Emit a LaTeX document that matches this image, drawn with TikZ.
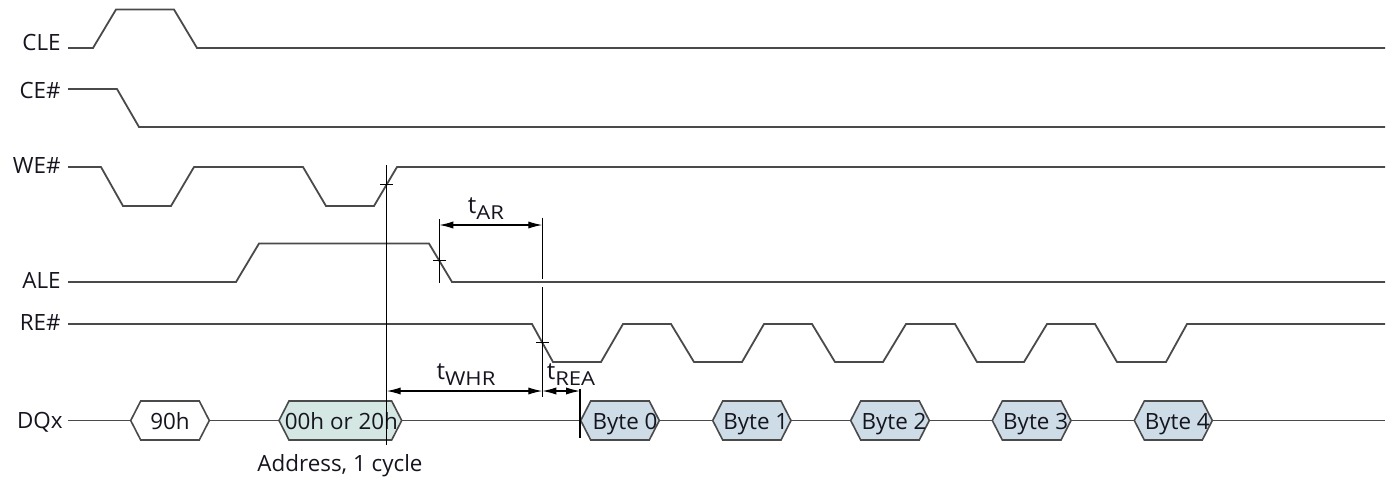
\documentclass[tikz,border=0pt]{standalone}
\usepackage{fontspec}
\setmainfont{Open Sans}
\usetikzlibrary{arrows.meta}
\definecolor{wavegray}{HTML}{4A4A4A}
\definecolor{txt}{HTML}{15151F}
\definecolor{addrfill}{HTML}{D5E7E3}
\definecolor{bytefill}{HTML}{CDDCE6}
\newcommand\bushex[6]{%
  \path[hexb, fill=#4] (#2,420.5) -- (#2+10,401) -- (#3-10,401) -- (#3,420.5) -- (#3-10,440) -- (#2+10,440) -- cycle;
  \coordinate (#1L) at (#2,420.5);
  \coordinate (#1R) at (#3,420.5);
  \node[hext] (#1) at ({(#2+#3)/2+#6},429) {#5};
}
\newcommand\tsub[1]{t\raisebox{-3.4pt}{\scalebox{1.15}[1]{\fontsize{9.6}{11}\selectfont #1}}}
\begin{document}
\begin{tikzpicture}[x=0.5pt,y=-0.5pt,
  wave/.style={draw=wavegray, line width=0.9pt, line join=miter},
  hexb/.style={draw=wavegray, line width=0.8pt, line join=miter},
  tline/.style={draw=black, line width=0.6pt},
  dimarrow/.style={tline, {Latex[length=7pt,width=3.6pt]}-{Latex[length=7pt,width=3.6pt]}},
  sig/.style={anchor=base east, font=\fontsize{11.2}{13}\selectfont, text=txt, inner sep=0pt},
  hext/.style={anchor=base, font=\fontsize{11.2}{13}\selectfont, text=txt, inner sep=0pt},
  tlab/.style={anchor=base, font=\fontsize{11.2}{13}\selectfont, text=txt, inner sep=0pt},
  tdim/.style={anchor=base, font=\fontsize{12}{14}\selectfont, text=txt, inner sep=0pt},
]
\useasboundingbox (0,0) rectangle (1393,478);

% signal names
\node[sig] (cle) at (61,50) {CLE};
\node[sig] (ce) at (61,98) {CE\#};
\node[sig] (we) at (61,173) {WE\#};
\node[sig] (ale) at (61,288) {ALE};
\node[sig] (re) at (61,330) {RE\#};
\node[sig] (dq) at (63,428) {DQx};

% waveforms
\draw[wave] (68,48)--(93,48)--(116,9.5)--(174,9.5)--(197,48)--(1385,48);
\draw[wave] (68,89)--(117,89)--(139,127)--(1385,127);
\draw[wave] (68,167)--(101,167)--(123,206)--(171,206)--(194,167)--(303,167)--(326,206)--(374,206)--(397,167)--(1385,167);
\draw[wave] (68,282)--(236,282)--(259,243.5)--(429,243.5)--(452,282)--(1385,282);
\draw[wave] (68,324)--(532,324)--(553,362)--(601,362)--(623,324)--(671,324)--(694,362)--(742,362)--(764,324)--(812,324)--(835,362)--(883,362)--(906,324)--(955,324)--(977,362)--(1024,362)--(1047,324)--(1095,324)--(1117,362)--(1166,362)--(1187,324)--(1385,324);

% DQx bus
\bushex{h90}{130.7}{209.3}{white}{90h}{0}
\bushex{haddr}{279}{401.7}{addrfill}{00h or 20h}{1}
\bushex{b0}{580.7}{659.3}{bytefill}{Byte 0}{5}
\bushex{b1}{712.7}{791}{bytefill}{Byte 1}{4}
\bushex{b2}{850.7}{929.3}{bytefill}{Byte 2}{4}
\bushex{b3}{992.3}{1071}{bytefill}{Byte 3}{4}
\bushex{b4}{1134.3}{1212.3}{bytefill}{Byte 4}{4}
\coordinate (dqs) at (68,420.5);
\coordinate (dqe) at (1385,420.5);
\draw[wave] (dqs) -- (h90L);
\draw[wave] (h90R) -- (haddrL);
\draw[wave] (haddrR) -- (b0L);
\draw[wave] (b0R) -- (b1L);
\draw[wave] (b1R) -- (b2L);
\draw[wave] (b2R) -- (b3L);
\draw[wave] (b3R) -- (b4L);
\draw[wave] (b4R) -- (dqe);
\node[tlab] (addr) at (340,471.5) {Address, 1 cycle};

% reference lines
\coordinate (v1t) at (386.7,165);  \coordinate (v1b) at (386.7,445);
\coordinate (v2t) at (439.3,219.3); \coordinate (v2b) at (439.3,283.3);
\coordinate (v3t) at (542.3,217.7); \coordinate (v3m) at (542.3,278.5);
\coordinate (v3n) at (542.3,287);   \coordinate (v3b) at (542.3,396.7);
\coordinate (v4t) at (580,389);    \coordinate (v4b) at (580,438);
\draw[tline] (v1t) -- (v1b);
\draw[tline] (v2t) -- (v2b);
\draw[tline] (v3t) -- (v3m);
\draw[tline] (v3n) -- (v3b);
\draw[tline] (v4t) -- (v4b);

% crossing ticks
\draw[tline] (380.2,184.5) -- (393.2,184.5);
\draw[tline] (433,260.7) -- (446,260.7);
\draw[tline] (536,342.6) -- (549,342.6);

% dimension arrows
\draw[dimarrow] (v2t |- 0,225) -- (v3t |- 0,225);
\draw[dimarrow] (v1t |- 0,391) -- (v3t |- 0,391);
\draw[dimarrow] (v3t |- 0,391) -- (v4t |- 0,391);

\node[tdim] (tar) at (486,213) {\tsub{AR}};
\node[tdim] (twhr) at (466,379) {\tsub{WHR}};
\node[tdim] (trea) at (571,379) {\tsub{REA}};
\end{tikzpicture}
\end{document}
